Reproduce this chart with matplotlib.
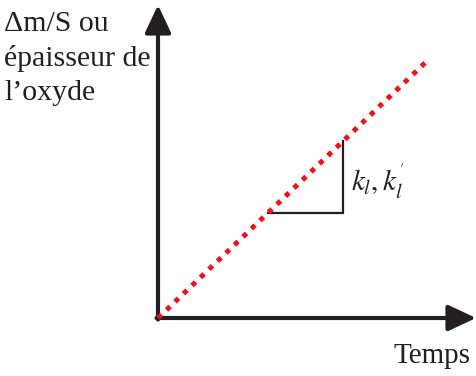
import matplotlib
matplotlib.use("Agg")
import matplotlib.pyplot as plt

# data (units: arbitrary, origin at axes intersection)
time = [0, 270]
value = [0, 258]
tri_t = [110, 185]          # slope triangle horizontal extent
y_label = "Δm/S ou\népaisseur de\nl’oxyde"
x_label = "Temps"
k_label = r"$k_l, k_l^{'}$"

plt.rcParams['mathtext.fontset'] = 'stix'
serif = ['Liberation Serif', 'DejaVu Serif']

fig = plt.figure(figsize=(4.77, 3.76), dpi=100)
ax = fig.add_axes([0, 0, 1, 1])
ax.set_xlim(-158, 319)
ax.set_ylim(-58, 318)
ax.axis('off')

# axes arrows
ap = dict(arrowstyle='-|>,head_length=0.85,head_width=0.4', lw=3, color='#231f20',
          shrinkA=0, shrinkB=0, mutation_scale=20)
ax.annotate('', xy=(0, 313), xytext=(0, -1.5), arrowprops=ap)
ax.annotate('', xy=(318, 0), xytext=(-1.5, 0), arrowprops=ap)

# red dotted line
ax.plot(time, value, color='#e8141e', lw=3.6, linestyle=(0, (1, 1.35)),
        dash_capstyle='butt', zorder=3)

# slope triangle
slope = value[1] / time[1]
y1 = slope * tri_t[0]
y2 = slope * tri_t[1]
ax.plot([tri_t[0], tri_t[1], tri_t[1]], [y1, y1, y2], color='#231f20', lw=1.6,
        solid_joinstyle='miter', zorder=2)

ax.text(tri_t[1] + 8, (y1 + y2) / 2 - 5, k_label, fontsize=21, ha='left', va='center',
        color='#231f20')

fig.text(4 / 477, 1 - 11 / 376, y_label, fontsize=21.5, family=serif, ha='left', va='top',
         linespacing=1.4, color='#231f20')
fig.text(471 / 477, 1 - 356 / 376, x_label, fontsize=21, family=serif, ha='right',
         va='center', color='#231f20')

fig.savefig('out.png', dpi=100)
